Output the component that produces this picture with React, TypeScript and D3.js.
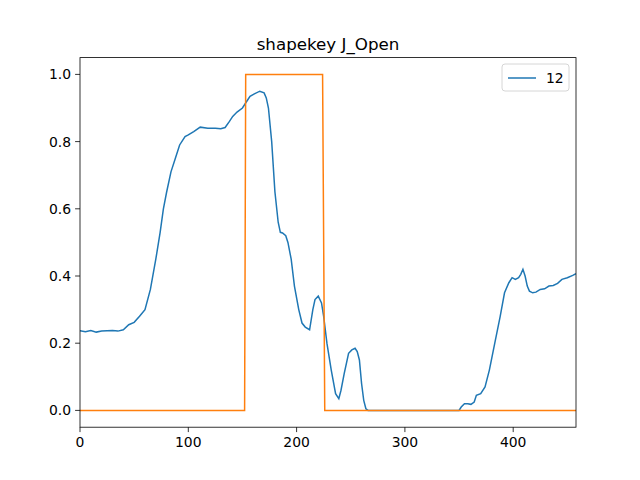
import React from "react";
import * as d3 from "d3";

const title = "shapekey J_Open";
const legendLabel = "12";
const blueX = [0,5,10,15,20,25,30,35,40,45,50,55,60,65,70,74,77,80,84,88,92,97,100,105,111,118,125,130,134,138,141,145,150,154,157,161,166,170,172,174,177,180,183,185,187,190,192,195,198,202,205,208,212,215,217,220,223,225,228,232,236,239,241,244,248,251,254,256,258,260,262,264,266,350,352,355,358,361,364,366,370,374,378,383,388,392,396,399,402,405,407,409,411,413,415,418,421,425,429,433,437,441,445,450,455,458];
const blueY = [0.237,0.234,0.238,0.233,0.236,0.237,0.238,0.236,0.24,0.255,0.262,0.28,0.3,0.36,0.45,0.53,0.6,0.65,0.71,0.75,0.79,0.815,0.82,0.83,0.843,0.84,0.84,0.838,0.842,0.86,0.875,0.888,0.9,0.92,0.935,0.942,0.95,0.945,0.93,0.9,0.8,0.65,0.56,0.53,0.528,0.52,0.5,0.45,0.37,0.3,0.26,0.248,0.24,0.3,0.33,0.34,0.32,0.28,0.2,0.12,0.05,0.035,0.06,0.11,0.17,0.18,0.185,0.175,0.15,0.08,0.03,0.005,0.0,0.0,0.01,0.02,0.02,0.018,0.025,0.045,0.05,0.07,0.12,0.2,0.28,0.35,0.38,0.395,0.39,0.395,0.405,0.42,0.4,0.37,0.355,0.35,0.352,0.36,0.362,0.37,0.372,0.378,0.39,0.395,0.402,0.407];
const orangeX = [0,152,153,224,226,458];
const orangeY = [0,0,1,1,0,0];
const xTicks = [0,100,200,300,400];
const yTicks = [0,0.2,0.4,0.6,0.8,1.0];

export default function App() {
  const L = 80, R = 576, T = 57.6, B = 427.2;
  const x = d3.scaleLinear().domain([0, 458]).range([L, R]);
  const y = d3.scaleLinear().domain([-0.05, 1.05]).range([B, T]);
  const line = d3.line<[number, number]>().x(d => x(d[0])).y(d => y(d[1]));
  const blue = line(blueX.map((v, i) => [v, blueY[i]]))!;
  const orange = line(orangeX.map((v, i) => [v, orangeY[i]]))!;
  const font = "DejaVu Sans";
  return (
    <svg width={640} height={480} style={{ position: "absolute", left: 0, top: 0 }} fontFamily={font}>
      <rect width={640} height={480} fill="#fff" />
      <defs><clipPath id="c"><rect x={L} y={T} width={R - L} height={B - T} /></clipPath></defs>
      <g clipPath="url(#c)">
        <path d={blue} fill="none" stroke="#1f77b4" strokeWidth={1.5} />
        <path d={orange} fill="none" stroke="#ff7f0e" strokeWidth={1.5} />
      </g>
      <rect x={L} y={T} width={R - L} height={B - T} fill="none" stroke="#000" strokeWidth={0.8} />
      {xTicks.map(t => (
        <g key={t}>
          <line x1={x(t)} x2={x(t)} y1={B} y2={B + 4.9} stroke="#000" strokeWidth={0.8} />
          <text x={x(t)} y={B + 20} fontSize={13.9} textAnchor="middle">{t}</text>
        </g>
      ))}
      {yTicks.map(t => (
        <g key={t}>
          <line x1={L - 4.9} x2={L} y1={y(t)} y2={y(t)} stroke="#000" strokeWidth={0.8} />
          <text x={L - 9} y={y(t) + 5} fontSize={13.9} textAnchor="end">{t.toFixed(1)}</text>
        </g>
      ))}
      <text x={(L + R) / 2} y={T - 8} fontSize={16.7} textAnchor="middle">{title}</text>
      <rect x={502} y={64} width={67} height={27} rx={3} fill="#fff" stroke="#ccc" strokeWidth={0.8} />
      <line x1={508} x2={536} y1={78} y2={78} stroke="#1f77b4" strokeWidth={1.5} />
      <text x={546} y={83} fontSize={13.9}>{legendLabel}</text>
    </svg>
  );
}
